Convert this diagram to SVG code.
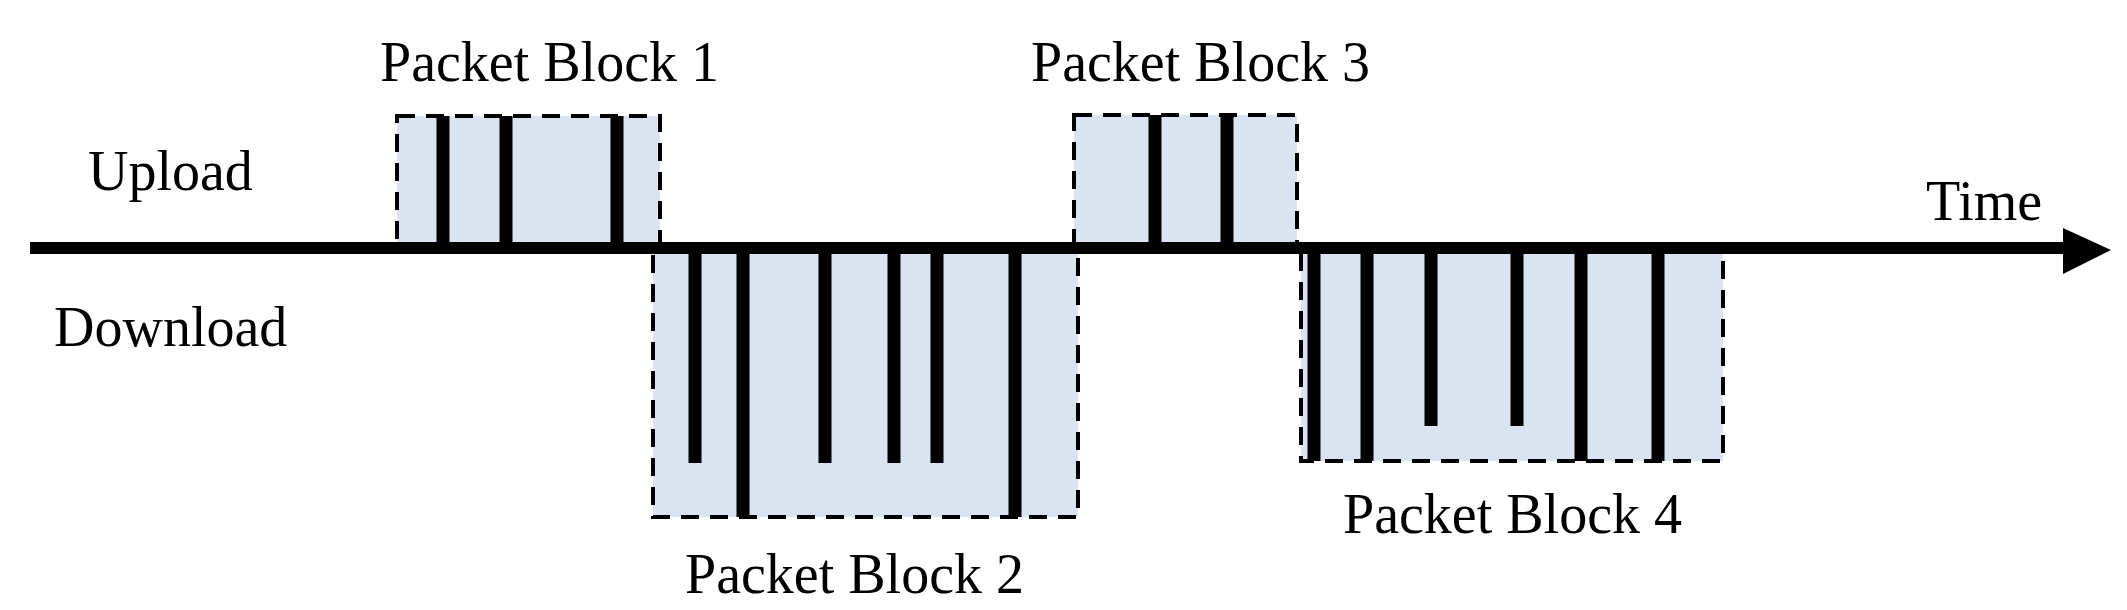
<svg xmlns="http://www.w3.org/2000/svg" width="2127" height="610" viewBox="0 0 2127 610">
<style>
.blk{fill:#dae3f0;stroke:#000;stroke-width:4;stroke-dasharray:18 11}
.bar{stroke:#000;stroke-width:13;fill:none}
text{font-family:"Liberation Serif","Times New Roman",serif;font-size:56px;fill:#000}
</style>
<g id="block1"><rect class="blk" x="397" y="116" width="263" height="132"/>
<path class="bar" d="M443 116V248M506 116V248M617 116V248"/></g>
<g id="block2"><rect class="blk" x="653" y="248" width="425" height="269"/>
<path class="bar" d="M695 248V463M743 248V517M825 248V463M894 248V463M937 248V463M1015 248V517"/></g>
<g id="block3"><rect class="blk" x="1074" y="115" width="223" height="133"/>
<path class="bar" d="M1155 115V248M1227 115V248"/></g>
<g id="block4"><rect class="blk" x="1301" y="248" width="422" height="213"/>
<path class="bar" d="M1314 248V461M1367 248V461M1431 248V426M1517 248V426M1581 248V461M1658 248V461"/></g>
<g id="connectors">
<line x1="30" y1="248" x2="2070" y2="248" stroke="#000" stroke-width="12"/>
<polygon points="2063,228 2111,250 2063,274" fill="#000"/>
</g>
<text x="380" y="81">Packet Block 1</text>
<text x="685" y="593">Packet Block 2</text>
<text x="1031" y="81">Packet Block 3</text>
<text x="1343" y="533">Packet Block 4</text>
<text x="88" y="190">Upload</text>
<text x="54" y="346">Download</text>
<text x="1926" y="220">Time</text>
</svg>
